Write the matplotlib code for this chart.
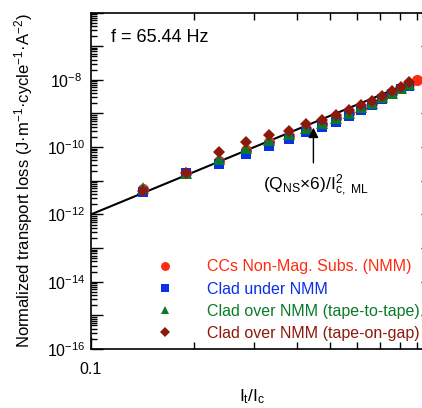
import numpy as np
import matplotlib
matplotlib.use("Agg")
import matplotlib.pyplot as plt
from matplotlib.ticker import FixedLocator, FuncFormatter, NullFormatter
from matplotlib.lines import Line2D

plt.rcParams['font.family'] = ['Liberation Sans', 'DejaVu Sans']
plt.rcParams['mathtext.fontset'] = 'custom'
plt.rcParams['mathtext.rm'] = 'Liberation Sans'
plt.rcParams['mathtext.it'] = 'Liberation Sans:italic'
plt.rcParams['mathtext.bf'] = 'Liberation Sans:bold'
plt.rcParams['mathtext.default'] = 'regular'

# ---- data ----
it_ic = [0.142, 0.190, 0.237, 0.284, 0.331, 0.378, 0.426, 0.473, 0.520,
         0.568, 0.615, 0.662, 0.710, 0.757, 0.804, 0.851]
it_ic_nmm = it_ic + [0.898]

log_nmm = [-11.24, -10.77, -10.40, -10.08, -9.84, -9.66, -9.47, -9.30, -9.14,
           -8.99, -8.83, -8.69, -8.53, -8.39, -8.25, -8.12, -8.00]
log_clad_under = [-11.32, -10.78, -10.51, -10.21, -9.96, -9.76, -9.54, -9.39, -9.26,
                  -9.07, -8.91, -8.74, -8.57, -8.43, -8.28, -8.18]
log_clad_t2t = [-11.22, -10.76, -10.36, -10.03, -9.80, -9.61, -9.44, -9.29, -9.14,
                -8.98, -8.82, -8.68, -8.52, -8.38, -8.24, -8.12]
log_clad_gap = [-11.29, -10.78, -10.16, -9.84, -9.64, -9.51, -9.32, -9.19, -9.04,
                -8.91, -8.74, -8.62, -8.47, -8.34, -8.20, -8.08]

ns_x = [0.1, 1.0]
ns_y = [1.0e-12, 1.55e-8]

labels = ["CCs Non-Mag. Subs. (NMM)", "Clad under NMM",
          "Clad over NMM (tape-to-tape)", "Clad over NMM (tape-on-gap)"]
colors = ["#ff2a10", "#0a30e8", "#0a7a28", "#8c1a0c"]
markers = ["o", "s", "^", "D"]

# ---- figure ----
W, H = 422, 408
fig = plt.figure(figsize=(W / 100, H / 100), dpi=100)
ax = fig.add_axes([91 / W, (H - 349) / H, 342 / W, 336.5 / H])

ax.plot(ns_x, ns_y, color='black', lw=1.5, zorder=2)

series = [(it_ic_nmm, log_nmm), (it_ic, log_clad_under),
          (it_ic, log_clad_t2t), (it_ic, log_clad_gap)]
sizes = [8.0, 7.5, 8.0, 6.6]
for (xs, ls), c, m, s in zip(series, colors, markers, sizes):
    ax.plot(xs, 10.0 ** np.array(ls), linestyle='none', marker=m, color=c,
            markersize=s, markeredgewidth=0, zorder=3)

ax.set_xscale('log')
ax.set_yscale('log')
ax.set_xlim(0.1, 1.0)
ax.set_ylim(1e-16, 1e-6)

ax.xaxis.set_major_locator(FixedLocator([0.1, 1.0]))
ax.xaxis.set_minor_locator(FixedLocator([0.2, 0.3, 0.4, 0.5, 0.6, 0.7, 0.8, 0.9]))
ax.xaxis.set_major_formatter(FuncFormatter(lambda v, p: '0.1' if abs(v - 0.1) < 1e-9 else ''))
ax.xaxis.set_minor_formatter(NullFormatter())

ymaj = [10.0 ** e for e in range(-16, -5)]
ymin = [k * 10.0 ** e for e in range(-16, -6) for k in range(2, 10)]
ax.yaxis.set_major_locator(FixedLocator(ymaj))
ax.yaxis.set_minor_locator(FixedLocator(ymin))

def yfmt(v, p):
    e = int(round(np.log10(v)))
    if e % 2 == 0 and e <= -8:
        return r'$10^{%d}$' % e
    return ''
ax.yaxis.set_major_formatter(FuncFormatter(yfmt))
ax.yaxis.set_minor_formatter(NullFormatter())

ax.tick_params(which='both', direction='in', top=True, right=True, width=1.0, color='black')
ax.tick_params(axis='y', which='major', length=8.6, pad=18, labelsize=11.5)
ax.tick_params(axis='y', which='minor', length=4.2)
ax.tick_params(axis='x', which='major', length=8.6, pad=9, labelsize=11.5)
ax.tick_params(axis='x', which='minor', length=5.0)
for t in ax.yaxis.get_major_ticks():
    t.label1.set_horizontalalignment('center')

for sp in ax.spines.values():
    sp.set_linewidth(1.2)

ax.set_ylabel('Normalized transport loss (J·m$^{-1}$·cycle$^{-1}$·A$^{-2}$)', fontsize=12)
ax.yaxis.set_label_coords(-0.165, 0.5)
ax.set_xlabel(r'$I_t/I_c$', fontsize=12.5)
ax.xaxis.set_label_coords(0.47, -0.115)

ax.text(0.058, 0.927, 'f = 65.44 Hz', transform=ax.transAxes, fontsize=13,
        ha='left', va='center')

ax.annotate('', xy=(0.447, 10 ** -9.42), xytext=(0.447, 10 ** -10.47),
            arrowprops=dict(arrowstyle='-|>', color='black', lw=1.0,
                            mutation_scale=15, shrinkA=0, shrinkB=0))
ax.text(0.503, 0.487, r'(Q$_{NS}$×6)/I$^{2}_{c,\ ML}$', transform=ax.transAxes,
        fontsize=12.5, ha='left', va='center')

handles = [Line2D([], [], linestyle='none', marker=m, color=c, markersize=s * 0.8,
                  markeredgewidth=0) for m, c, s in zip(markers, colors, sizes)]
ax.legend(handles, labels, loc='upper left', bbox_to_anchor=(0.193, 0.266),
          frameon=False, fontsize=11.5, labelcolor=colors, handlelength=1.0,
          handletextpad=2.1, borderpad=0, borderaxespad=0, labelspacing=0.45,
          numpoints=1)

fig.savefig('out.png', dpi=100)
